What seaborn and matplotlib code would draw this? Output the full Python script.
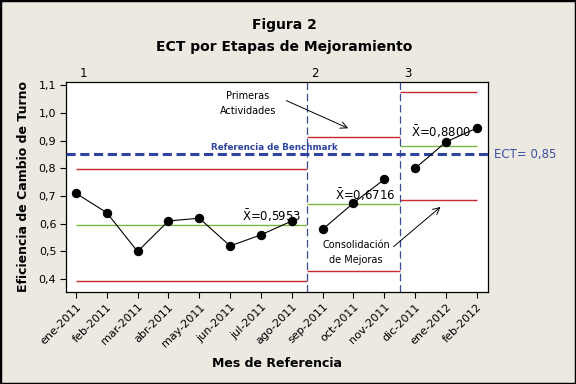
import numpy as np
import pandas as pd
import seaborn as sns
import matplotlib
matplotlib.use("Agg")
from matplotlib import pyplot as plt
from matplotlib.patches import Rectangle

sns.set_theme(style="white")
plt.rcParams['font.family'] = ['DejaVu Sans']
plt.rcParams['text.color'] = 'black'
plt.rcParams['axes.labelcolor'] = 'black'
plt.rcParams['xtick.color'] = 'black'
plt.rcParams['ytick.color'] = 'black'

# data
meses = ["ene-2011", "feb-2011", "mar-2011", "abr-2011", "may-2011", "jun-2011",
         "jul-2011", "ago-2011", "sep-2011", "oct-2011", "nov-2011", "dic-2011",
         "ene-2012", "feb-2012"]
ect = [0.71, 0.64, 0.50, 0.61, 0.62, 0.52, 0.56, 0.61,
       0.58, 0.675, 0.76,
       0.80, 0.895, 0.945]
etapa = [1] * 8 + [2] * 3 + [3] * 3
etapa_inicio = [0, 7.5, 10.5]
etapa_fin = [7.5, 10.5, 13]
media = [0.5953, 0.6716, 0.8800]
lsc = [0.797, 0.911, 1.074]
lic = [0.394, 0.431, 0.684]
benchmark = 0.85
yticks = [0.4, 0.5, 0.6, 0.7, 0.8, 0.9, 1.0, 1.1]

BG = "#ECE9E1"
ROJO = "#C8292F"
VERDE = "#7DB543"
AZUL = "#2E44A0"
AZUL_V = "#3A4C96"

df = pd.DataFrame({"idx": np.arange(len(meses)), "ect": ect, "etapa": etapa})

fig = plt.figure(figsize=(5.76, 3.84), dpi=100, facecolor=BG)
ax = fig.add_axes([0.1146, 0.2396, 0.7326, 0.5469])
ax.set_facecolor("white")

# limits per stage
for i in range(3):
    ax.hlines(lsc[i], etapa_inicio[i], etapa_fin[i], color=ROJO, lw=1.0, zorder=2)
    ax.hlines(lic[i], etapa_inicio[i], etapa_fin[i], color=ROJO, lw=1.0, zorder=2)
    ax.hlines(media[i], etapa_inicio[i], etapa_fin[i], color=VERDE, lw=1.0, zorder=2)

for b in etapa_inicio[1:]:
    ax.axvline(b, color=AZUL_V, lw=0.9, ls=(0, (6, 3)), zorder=2)

ax.axhline(benchmark, color=AZUL, lw=2.2, ls=(0, (3, 1.5)), zorder=3)

sns.lineplot(data=df, x="idx", y="ect", units="etapa", estimator=None,
             color="black", lw=0.8, marker="o", markersize=6,
             markeredgecolor="black", ax=ax, zorder=4, legend=False)

ax.set_xlim(-0.32, 13.36)
ax.set_ylim(0.354, 1.111)
ax.set_yticks(yticks)
ax.set_yticklabels([f"{v:.1f}".replace(".", ",") for v in yticks], fontsize=8)
ax.set_xticks(df["idx"])
ax.set_xticklabels(meses, rotation=45, ha="right", rotation_mode="anchor", fontsize=8)
ax.tick_params(axis="both", which="both", direction="out", length=4, width=0.8,
               bottom=True, left=True, color="black", pad=3)
for s in ax.spines.values():
    s.set_color("black")
    s.set_linewidth(0.9)

ax.set_xlabel("Mes de Referencia", fontsize=9, fontweight="bold", labelpad=6)
ax.set_ylabel("Eficiencia de Cambio de Turno", fontsize=9, fontweight="bold", labelpad=6)

# stage numbers
for i, x in enumerate([0.25, 7.75, 10.75]):
    ax.text(x, 1.117, str(i + 1), fontsize=8.5, ha="center", va="bottom")

# mean labels
pos_media = [(5.4, 0.628), (8.4, 0.704), (10.88, 0.932)]
for (x, y), m in zip(pos_media, media):
    ax.text(x, y, r"$\bar{\mathrm{X}}$=" + f"{m:.4f}".replace(".", ","),
            fontsize=8.5, ha="left", va="center", zorder=3)

ax.text(6.44, 0.874, "Referencia de Benchmark", fontsize=6.3, fontweight="bold",
        color=AZUL, ha="center", va="center", zorder=3)
ax.text(13.55, benchmark, "ECT= 0,85", fontsize=8.5, color="#3B4FA8", ha="left",
        va="center", clip_on=False)

ax.text(5.58, 1.033, "Primeras\nActividades", fontsize=7, ha="center", va="center",
        linespacing=1.6)
ax.annotate("", xy=(8.91, 0.94), xytext=(6.74, 1.048),
            arrowprops=dict(arrowstyle="->", color="black", lw=0.7))
ax.text(9.08, 0.495, "Consolidación\nde Mejoras", fontsize=7, ha="center", va="center",
        linespacing=1.6, zorder=5)
ax.annotate("", xy=(11.89, 0.667), xytext=(10.23, 0.511),
            arrowprops=dict(arrowstyle="->", color="black", lw=0.7))

fig.text(0.493, 0.935, "Figura 2", fontsize=10, fontweight="bold", ha="center", va="center")
fig.text(0.493, 0.877, "ECT por Etapas de Mejoramiento", fontsize=10, fontweight="bold",
         ha="center", va="center")

fig.patches.append(Rectangle((0, 0), 1, 1, transform=fig.transFigure, fill=False,
                             edgecolor="black", lw=2.5))

fig.savefig("out.png", dpi=100, facecolor=BG)
